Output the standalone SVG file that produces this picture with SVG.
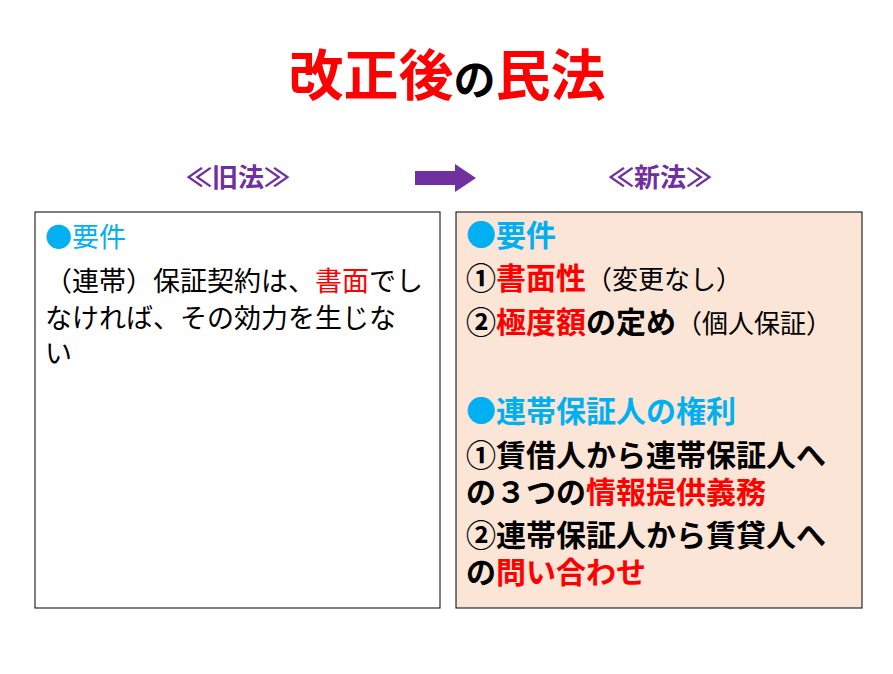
<svg xmlns="http://www.w3.org/2000/svg" width="893" height="674" viewBox="0 0 893 674">
<style>
text{font-family:"Noto Sans CJK JP","Noto Sans",sans-serif}
.r{fill:#ff0000}.c{fill:#00b0f0}.n{font-weight:normal}
.L{font-size:27px}.R{font-size:30px;font-weight:bold}
.h{font-size:26px;fill:#7030a0;font-weight:bold}
</style>
<rect width="893" height="674" fill="#fff"/>
<g id="title"><text x="447" y="95" text-anchor="middle" font-size="55" font-weight="bold"><tspan class="r">改正後</tspan><tspan font-size="42">の</tspan><tspan class="r">民法</tspan></text></g>
<g id="old-header"><text class="h" x="238" y="187" text-anchor="middle">≪旧法≫</text></g>
<g id="new-header"><text class="h" x="660" y="187" text-anchor="middle">≪新法≫</text></g>
<g id="connectors"><path d="M415 171H455V164L476 178L455 192V185H415Z" fill="#7030a0"/></g>
<g id="old">
<rect x="35" y="212" width="405" height="396" fill="#fff" stroke="#000" stroke-width="1"/>
<text class="L c" x="45" y="247">●要件</text>
<text class="L" x="45" y="291">（連帯）保証契約は、<tspan class="r">書面</tspan>でし</text>
<text class="L" x="45" y="328">なければ、その効力を生じな</text>
<text class="L" x="45" y="363">い</text>
</g>
<g id="new">
<rect x="456" y="212" width="406" height="396" fill="#fbe5d6" stroke="#000" stroke-width="1"/>
<text class="R c" x="466" y="246">●要件</text>
<text class="R" x="466" y="289">①<tspan class="r">書面性</tspan><tspan class="n" font-size="26">（変更なし）</tspan></text>
<text class="R" x="466" y="333">②<tspan class="r">極度額</tspan>の定め<tspan class="n" font-size="26">（個人保証）</tspan></text>
<text class="R c" x="466" y="422">●連帯保証人の権利</text>
<text class="R" x="466" y="466">①賃借人から連帯保証人へ</text>
<text class="R" x="466" y="503">の３つの<tspan class="r">情報提供義務</tspan></text>
<text class="R" x="466" y="546">②連帯保証人から賃貸人へ</text>
<text class="R" x="466" y="583">の<tspan class="r">問い合わせ</tspan></text>
</g>
</svg>
